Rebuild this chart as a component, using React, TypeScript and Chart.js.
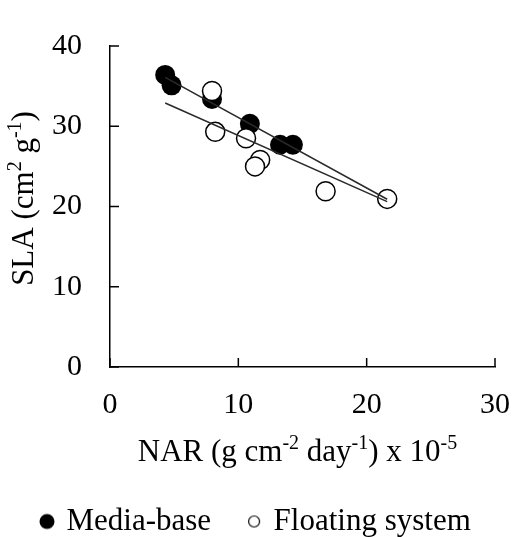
import React, { useEffect, useRef } from "react";
import { Chart, registerables } from "chart.js";

Chart.register(...registerables);

// ---- data ----
const mediaNAR = [4.3, 4.8, 7.95, 10.9, 13.25, 14.25];
const mediaSLA = [36.4, 35.1, 33.4, 30.3, 27.7, 27.7];
const floatNAR = [7.95, 8.2, 10.6, 11.7, 11.3, 16.8, 21.6];
const floatSLA = [34.4, 29.3, 28.5, 25.8, 25.0, 21.9, 20.95];
const mediaFitNAR = [4.3, 21.6];
const mediaFitSLA = [36.1, 20.9];
const floatFitNAR = [4.3, 21.6];
const floatFitSLA = [32.9, 20.6];
const xTicks = [0, 10, 20, 30];
const yTicks = [0, 10, 20, 30, 40];
const seriesNames = ["Media-base", "Floating system"];
// [text, isSuperscript]
const xTitleParts: [string, boolean][] = [
  ["NAR (g cm", false],
  ["-2", true],
  [" day", false],
  ["-1", true],
  [") x 10", false],
  ["-5", true],
];
const yTitleParts: [string, boolean][] = [
  ["SLA (cm", false],
  ["2", true],
  [" g", false],
  ["-1", true],
  [")", false],
];

const FONT = '"Liberation Serif", "Times New Roman", serif';

function toPoints(xs: number[], ys: number[]) {
  return xs.map((x, i) => ({ x, y: ys[i] }));
}

function drawRich(
  ctx: CanvasRenderingContext2D,
  parts: [string, boolean][],
  size: number,
  cx: number,
  baseY: number
) {
  const supSize = Math.round(size * 0.63);
  const rise = size * 0.4;
  let total = 0;
  const widths = parts.map(([t, sup]) => {
    ctx.font = `${sup ? supSize : size}px ${FONT}`;
    const w = ctx.measureText(t).width;
    total += w;
    return w;
  });
  let x = cx - total / 2;
  ctx.textAlign = "left";
  ctx.textBaseline = "alphabetic";
  ctx.fillStyle = "#000";
  parts.forEach(([t, sup], i) => {
    ctx.font = `${sup ? supSize : size}px ${FONT}`;
    ctx.fillText(t, x, sup ? baseY - rise : baseY);
    x += widths[i];
  });
}

function makeMarker(filled: boolean): HTMLCanvasElement {
  const c = document.createElement("canvas");
  const s = 18;
  c.width = s;
  c.height = s;
  const g = c.getContext("2d")!;
  g.beginPath();
  if (filled) {
    g.arc(s / 2, s / 2, 7.5, 0, Math.PI * 2);
    g.fillStyle = "#000";
    g.fill();
  } else {
    g.arc(s / 2, s / 2, 5.5, 0, Math.PI * 2);
    g.lineWidth = 1.2;
    g.strokeStyle = "#000";
    g.stroke();
  }
  return c;
}

const decorPlugin = {
  id: "decor",
  afterDraw(chart: any) {
    const ctx: CanvasRenderingContext2D = chart.ctx;
    const xs = chart.scales.x;
    const ys = chart.scales.y;
    const area = chart.chartArea;
    ctx.save();
    // inward tick marks
    ctx.strokeStyle = "#000";
    ctx.lineWidth = 1.5;
    ctx.beginPath();
    xTicks.forEach((v) => {
      const px = xs.getPixelForValue(v);
      ctx.moveTo(px, area.bottom);
      ctx.lineTo(px, area.bottom - 9);
    });
    yTicks.forEach((v) => {
      const py = ys.getPixelForValue(v);
      ctx.moveTo(area.left, py);
      ctx.lineTo(area.left + 9, py);
    });
    ctx.stroke();
    // axis titles with superscripts
    drawRich(ctx, xTitleParts, 31, (area.left + area.right) / 2 - 5, area.bottom + 94);
    ctx.translate(area.left - 77, (area.top + area.bottom) / 2 - 8);
    ctx.rotate(-Math.PI / 2);
    drawRich(ctx, yTitleParts, 31, 0, 0);
    ctx.restore();
  },
};

export default function App() {
  const ref = useRef<HTMLCanvasElement | null>(null);

  useEffect(() => {
    if (!ref.current) return;
    const filledMarker = makeMarker(true);
    const openMarker = makeMarker(false);
    const chart = new Chart(ref.current, {
      type: "scatter",
      data: {
        datasets: [
          {
            label: "Media-base fit",
            data: toPoints(mediaFitNAR, mediaFitSLA),
            showLine: true,
            borderColor: "#2a2a2a",
            borderWidth: 1.5,
            pointRadius: 0,
            order: 0,
          },
          {
            label: "Floating fit",
            data: toPoints(floatFitNAR, floatFitSLA),
            showLine: true,
            borderColor: "#2a2a2a",
            borderWidth: 1.5,
            pointRadius: 0,
            order: 1,
          },
          {
            label: seriesNames[1],
            data: toPoints(floatNAR, floatSLA),
            pointRadius: 9.5,
            pointBackgroundColor: "#fff",
            pointBorderColor: "#000",
            pointBorderWidth: 1.5,
            order: 2,
          },
          {
            label: seriesNames[0],
            data: toPoints(mediaNAR, mediaSLA),
            pointRadius: 10,
            pointBackgroundColor: "#000",
            pointBorderColor: "#000",
            pointBorderWidth: 0,
            order: 3,
          },
        ],
      },
      options: {
        animation: false,
        responsive: false,
        devicePixelRatio: 1,
        layout: { padding: { left: 4, top: 30, right: 0, bottom: -10 } },
        scales: {
          x: {
            type: "linear",
            min: 0,
            max: 30,
            afterFit: (s: any) => {
              s.height = 100;
              s.paddingRight = 18;
            },
            afterBuildTicks: (s: any) => {
              s.ticks = xTicks.map((v) => ({ value: v }));
            },
            grid: { display: false, drawTicks: false },
            border: { display: true, color: "#000", width: 1.5 },
            ticks: {
              padding: 20,
              color: "#000",
              font: { family: FONT, size: 30 },
              maxRotation: 0,
            },
          },
          y: {
            type: "linear",
            min: 0,
            max: 40,
            afterFit: (s: any) => {
              s.width = 106;
            },
            afterBuildTicks: (s: any) => {
              s.ticks = yTicks.map((v) => ({ value: v }));
            },
            grid: { display: false, drawTicks: false },
            border: { display: true, color: "#000", width: 1.5 },
            ticks: {
              padding: 28,
              color: "#000",
              font: { family: FONT, size: 30 },
            },
          },
        },
        plugins: {
          tooltip: { enabled: false },
          legend: {
            display: true,
            position: "bottom",
            align: "start",
            labels: {
              usePointStyle: true,
              boxWidth: 8,
              padding: 39,
              color: "#000",
              font: { family: FONT, size: 31 },
              generateLabels: () => [
                {
                  text: seriesNames[0],
                  pointStyle: filledMarker,
                  fillStyle: "#000",
                  strokeStyle: "#000",
                  lineWidth: 0,
                  hidden: false,
                  datasetIndex: 3,
                },
                {
                  text: seriesNames[1],
                  pointStyle: openMarker,
                  fillStyle: "#fff",
                  strokeStyle: "#000",
                  lineWidth: 0,
                  hidden: false,
                  datasetIndex: 2,
                },
              ],
            },
          },
        },
      },
      plugins: [decorPlugin],
    });
    return () => chart.destroy();
  }, []);

  return (
    <div
      style={{
        position: "fixed",
        left: 0,
        top: 0,
        width: 513,
        height: 537,
        background: "#fff",
      }}
    >
      <canvas ref={ref} width={513} height={537} />
    </div>
  );
}
